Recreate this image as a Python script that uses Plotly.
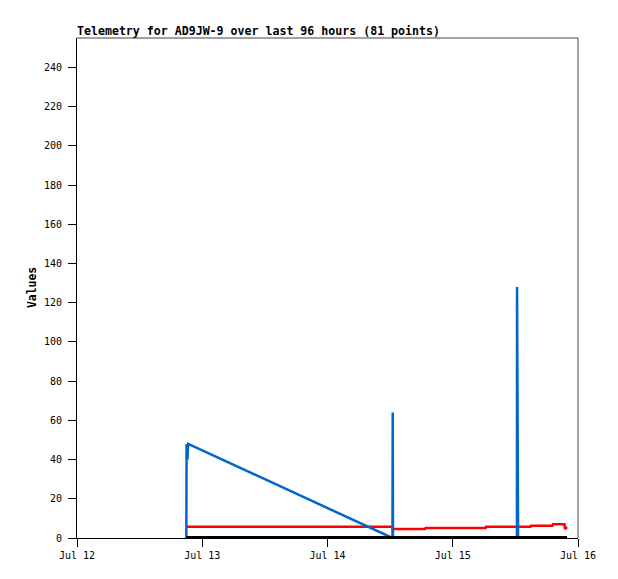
import plotly.graph_objects as go
from datetime import datetime, timedelta

# ---- data ----
title_text = "Telemetry for AD9JW-9 over last 96 hours (81 points)"
start = datetime(2024, 7, 12, 0, 0)
hours = [20.95, 21.0, 21.15, 21.3, 60.45, 60.5, 60.55, 66.7, 66.8, 78.3, 78.4,
         84.3, 84.32, 84.5, 84.52, 86.9, 87.0, 91.1, 91.2, 93.4, 93.5, 93.9]
ch_blue = [0, 48, 40, 48, 0, 64, 0, 0, 0, 0, 0,
           0, 128, 24, 0, 0, 0, 0, 0, 0, 0, 0]
ch_red = [5.8, 5.8, 5.8, 5.8, 5.8, 4.6, 4.6, 4.6, 5.1, 5.1, 5.8,
          5.8, 5.8, 5.8, 5.8, 5.8, 6.3, 6.3, 7.0, 7.0, 4.6, 5.6]
ch_black = [0] * len(hours)
x_tick_vals = ["2024-07-12", "2024-07-13", "2024-07-14", "2024-07-15", "2024-07-16"]
x_tick_text = ["Jul 12", "Jul 13", "Jul 14", "Jul 15", "Jul 16"]
y_ticks = list(range(0, 241, 20))

times = [start + timedelta(hours=h) for h in hours]

W, H = 610, 571
mono = "DejaVu Sans Mono"
fig = go.Figure()
fig.add_trace(go.Scatter(x=times, y=ch_red, mode="lines",
                         line=dict(color="#ff0000", width=2.5), showlegend=False))
fig.add_trace(go.Scatter(x=times, y=ch_blue, mode="lines",
                         line=dict(color="#0066cc", width=2.5), showlegend=False))
fig.add_trace(go.Scatter(x=times, y=ch_black, mode="lines",
                         line=dict(color="#000000", width=4), showlegend=False))

fig.update_layout(
    width=W, height=H,
    margin=dict(l=69, r=40, t=30, b=41),
    paper_bgcolor="white", plot_bgcolor="white",
    font=dict(family=mono, size=10, color="black"),
    title=dict(text="<b>" + title_text + "</b>", x=69/W, xref="container", xanchor="left",
               y=1 - 22.5/H, yref="container", yanchor="middle",
               font=dict(family=mono, size=11.6, color="black")),
    xaxis=dict(type="date", range=["2024-07-12", "2024-07-16"],
               tickvals=x_tick_vals, ticktext=x_tick_text,
               ticks="outside", ticklen=8, tickcolor="black", tickwidth=1,
               showline=True, linecolor="black", linewidth=1,
               showgrid=False, zeroline=False,
               tickfont=dict(family=mono, size=10)),
    yaxis=dict(range=[0, 255], tickvals=y_ticks,
               ticks="outside", ticklen=8, tickcolor="black", tickwidth=1,
               showline=True, linecolor="black", linewidth=1,
               showgrid=False, zeroline=False, ticklabelstandoff=4,
               tickfont=dict(family=mono, size=10)),
    shapes=[
        dict(type="line", xref="paper", yref="paper", x0=0, x1=1, y0=1, y1=1,
             line=dict(color="#444444", width=1)),
        dict(type="line", xref="paper", yref="paper", x0=1, x1=1, y0=0, y1=1,
             line=dict(color="#444444", width=1)),
    ],
    annotations=[
        dict(text="<b>Values</b>", xref="paper", yref="paper",
             x=(32 - 77) / 501, y=0.5, xanchor="center", yanchor="middle",
             textangle=-90, showarrow=False, font=dict(family=mono, size=11.4))
    ],
)

fig.write_html("out.html")
